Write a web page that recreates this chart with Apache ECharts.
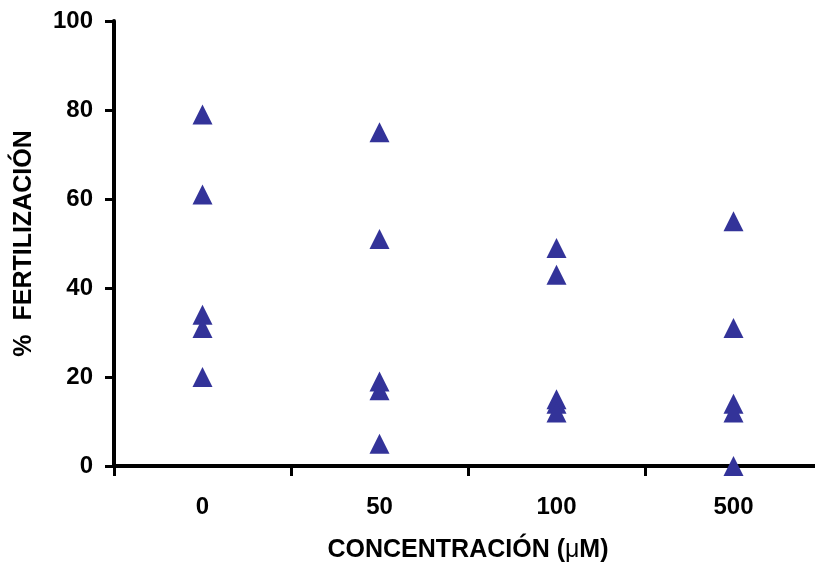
<!DOCTYPE html>
<html>
<head>
<meta charset="utf-8">
<script src="https://cdn.jsdelivr.net/npm/echarts@6/dist/echarts.min.js"></script>
<style>
html,body{margin:0;padding:0;background:#fff;}
#c{width:815px;height:563px;}
</style>
</head>
<body>
<div id="c"></div>
<script>
var categories = ['0', '50', '100', '500'];
var values0 = [79, 61, 34, 31, 20];
var values50 = [75, 51, 19, 17, 5];
var values100 = [49, 43, 15, 14, 12];
var values500 = [55, 31, 14, 12, 0];
var yTicks = [0, 20, 40, 60, 80, 100];

var groups = [values0, values50, values100, values500];
var points = [];
groups.forEach(function (arr, i) {
  arr.forEach(function (v) { points.push([categories[i], v]); });
});

var chart = echarts.init(document.getElementById('c'), null, {renderer: 'canvas'});
var font = 'Liberation Sans, Arial, sans-serif';
chart.setOption({
  animation: false,
  backgroundColor: '#ffffff',
  grid: {left: 114, width: 708, top: 21, height: 445, containLabel: false, outerBoundsMode: 'none'},
  xAxis: {
    type: 'category',
    data: categories,
    boundaryGap: true,
    axisLine: {lineStyle: {color: '#000', width: 4}},
    axisTick: {show: true, alignWithLabel: false, length: 10, lineStyle: {color: '#000', width: 3}},
    axisLabel: {color: '#000', fontFamily: font, fontWeight: 'bold', fontSize: 24, margin: 29},
    splitLine: {show: false},
    name: '{b|CONCENTRACIÓN (}{m|μ}{b|M)}',
    nameLocation: 'middle',
    nameGap: 72,
    nameTextStyle: {
      rich: {
        b: {color: '#000', fontFamily: font, fontWeight: 'bold', fontSize: 25},
        m: {color: '#000', fontFamily: font, fontWeight: 'normal', fontSize: 25}
      }
    }
  },
  yAxis: {
    type: 'value',
    min: 0,
    max: 100,
    interval: 20,
    axisLine: {show: true, lineStyle: {color: '#000', width: 4}},
    axisTick: {show: true, length: 9, lineStyle: {color: '#000', width: 3}},
    axisLabel: {color: '#000', fontFamily: font, fontWeight: 'bold', fontSize: 24, margin: 21,
      formatter: function (v) { return yTicks.indexOf(v) >= 0 ? String(v) : ''; }},
    splitLine: {show: false},
    name: '%  FERTILIZACIÓN',
    nameLocation: 'middle',
    nameGap: 77,
    nameRotate: 90,
    nameTextStyle: {color: '#000', fontFamily: font, fontWeight: 'bold', fontSize: 25}
  },
  series: [{
    type: 'scatter',
    data: points,
    symbol: 'triangle',
    symbolSize: [20, 20],
    itemStyle: {color: '#333399', opacity: 1},
    z: 5
  }]
});
</script>
</body>
</html>
